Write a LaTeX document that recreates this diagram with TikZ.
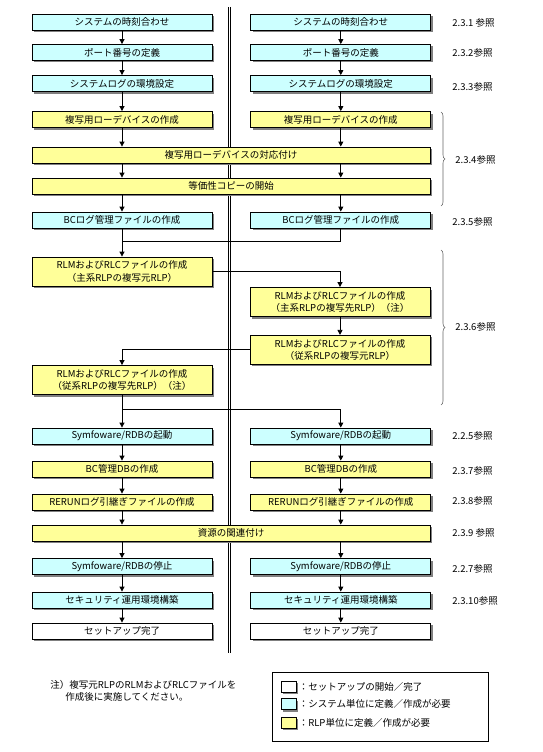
\documentclass[tikz,border=0pt]{standalone}
\usepackage{fontspec}
\setmainfont{Noto Sans CJK JP}
\usepackage{tikz}
\usetikzlibrary{arrows.meta,positioning,shadows,decorations.pathreplacing}
\definecolor{syscyan}{HTML}{CCFFFF}
\definecolor{rlpyellow}{HTML}{FFFF99}
\newcommand{\boxfont}{\fontsize{9.5}{12.5}\selectfont}
\newcommand{\reffont}{\fontsize{9.5}{11.5}\selectfont}

\begin{document}
\begin{tikzpicture}[
  x=1pt, y=-1pt, >={Triangle[length=5pt,width=5pt]}, line width=0.8pt,
  every node/.style={font=\boxfont},
  stepbox/.style={draw, line width=0.8pt, inner sep=1pt, align=center, minimum height=16pt,
    drop shadow={shadow xshift=2pt, shadow yshift=-2pt, fill=black!50, opacity=1}},
  sysbox/.style={stepbox, fill=syscyan},
  rlpbox/.style={stepbox, fill=rlpyellow},
  endbox/.style={stepbox, fill=white},
  narrow/.style={minimum width=180pt},
  wide/.style={minimum width=398pt},
  tall/.style={minimum height=29pt},
  ref/.style={anchor=west, font=\reffont, inner sep=0pt},
  refbrace/.style={draw=black!60, line width=0.6pt, decorate, decoration={brace, amplitude=4pt}}
]
  \useasboundingbox (0,0) rectangle (542,752);

  % Separator between the two systems
  \coordinate (sepTop) at (229.5,7);
  \coordinate (sepBot) at (229.5,653);
  \draw[double, double distance=1.6pt, line width=0.7pt] (sepTop) -- (sepBot);

  % Left column, right column beside it
  \node[sysbox, narrow] (L1) at (122,22) {システムの時刻合わせ};
  \node[sysbox, narrow] (R1) [right=38pt of L1] {システムの時刻合わせ};
  \node[sysbox, narrow] (L2) at (122,52.5) {ポート番号の定義};
  \node[sysbox, narrow] (R2) [right=38pt of L2] {ポート番号の定義};
  \node[sysbox, narrow] (L3) at (122,83.5) {システムログの環境設定};
  \node[sysbox, narrow] (R3) [right=38pt of L3] {システムログの環境設定};
  \node[rlpbox, narrow] (L4) at (122,119.5) {複写用ローデバイスの作成};
  \node[rlpbox, narrow] (R4) [right=38pt of L4] {複写用ローデバイスの作成};
  \node[rlpbox, wide] (W5) at (231,155) {複写用ローデバイスの対応付け};
  \node[rlpbox, wide] (W6) at (231,186) {等価性コピーの開始};
  \node[sysbox, narrow] (L7) at (122,220) {BCログ管理ファイルの作成};
  \node[sysbox, narrow] (R7) [right=38pt of L7] {BCログ管理ファイルの作成};

  % RLM/RLC files, zig-zag between systems
  \node[rlpbox, narrow, tall] (L8) at (122,271.5) {RLMおよびRLCファイルの作成\\（主系RLPの複写元RLP）};
  \node[rlpbox, narrow, tall] (R9) at (340,302) {RLMおよびRLCファイルの作成\\（主系RLPの複写先RLP）（注）};
  \node[rlpbox, narrow, tall] (R10) [below=18pt of R9] {RLMおよびRLCファイルの作成\\（従系RLPの複写元RLP）};
  \node[rlpbox, narrow, tall] (L11) at (122,380) {RLMおよびRLCファイルの作成\\（従系RLPの複写先RLP）（注）};

  \node[sysbox, narrow] (L12) at (122,436) {Symfoware/RDBの起動};
  \node[sysbox, narrow] (R12) [right=38pt of L12] {Symfoware/RDBの起動};
  \node[rlpbox, narrow] (L13) at (122,469) {BC管理DBの作成};
  \node[rlpbox, narrow] (R13) [right=38pt of L13] {BC管理DBの作成};
  \node[rlpbox, narrow] (L14) at (122,502) {RERUNログ引継ぎファイルの作成};
  \node[rlpbox, narrow] (R14) [right=38pt of L14] {RERUNログ引継ぎファイルの作成};
  \node[rlpbox, wide] (W15) at (231,533) {資源の関連付け};
  \node[sysbox, narrow] (L16) at (122,566.5) {Symfoware/RDBの停止};
  \node[sysbox, narrow] (R16) [right=38pt of L16] {Symfoware/RDBの停止};
  \node[sysbox, narrow] (L17) at (122,600) {セキュリティ運用環境構築};
  \node[sysbox, narrow] (R17) [right=38pt of L17] {セキュリティ運用環境構築};
  \node[endbox, narrow] (L18) at (122,631) {セットアップ完了};
  \node[endbox, narrow] (R18) [right=38pt of L18] {セットアップ完了};

  % Straight arrows
  \foreach \a/\b in {L1/L2,L2/L3,L3/L4,R1/R2,R2/R3,R3/R4,L7/L8,R9/R10,L11/L12,
      L12/L13,L13/L14,R12/R13,R13/R14,L16/L17,L17/L18,R16/R17,R17/R18}
    \draw[->] (\a) -- (\b);

  % Arrows into and out of the wide boxes
  \foreach \c in {L4,R4} {
    \draw[->] (\c) -- (\c |- W5.north);
    \draw[->] (\c |- W5.south) -- (\c |- W6.north);
  }
  \foreach \c in {L7,R7} \draw[->] (\c |- W6.south) -- (\c);
  \foreach \c in {L14,R14} \draw[->] (\c) -- (\c |- W15.north);
  \foreach \c in {L16,R16} \draw[->] (\c |- W15.south) -- (\c);

  % Joins
  \coordinate (joinA) at (122,241);
  \coordinate (joinB) at (122,409);
  \draw (R7) |- (joinA);
  \draw[->] (L8) -| (R9);
  \draw[->] (R10) -| (L11);
  \draw[->] (joinB) -| (R12);

  % References
  \node[ref] (ref1) at (452,23) {2.3.1 参照};
  \node[ref] (ref2) at (452,53) {2.3.2参照};
  \node[ref] (ref3) at (452,87) {2.3.3参照};
  \draw[refbrace] (441,112) -- (441,206);
  \node[ref] (ref4) at (455,160) {2.3.4参照};
  \node[ref] (ref5) at (452,222) {2.3.5参照};
  \draw[refbrace] (441,250) -- (441,405);
  \node[ref] (ref6) at (455,327) {2.3.6参照};
  \node[ref] (ref7) at (452,436) {2.2.5参照};
  \node[ref] (ref8) at (452,471) {2.3.7参照};
  \node[ref] (ref9) at (452,501) {2.3.8参照};
  \node[ref] (ref10) at (452,533) {2.3.9 参照};
  \node[ref] (ref11) at (452,569) {2.2.7参照};
  \node[ref] (ref12) at (452,601) {2.3.10参照};

  % Note
  \node[anchor=north west, align=left, inner sep=0pt, font=\reffont] (note) at (50,680)
    {注）複写元RLPのRLMおよびRLCファイルを\\\hspace*{15pt}作成後に実施してください。};

  % Legend
  \node[draw, line width=0.8pt, minimum width=216pt, minimum height=69pt, inner sep=0pt] (legend) at (380,706.5) {};
  \node[endbox, minimum width=15pt, minimum height=11pt, inner sep=0pt] (keyA) at (288.5,686.5) {};
  \node[sysbox, minimum width=15pt, minimum height=11pt, inner sep=0pt] (keyB) at (288.5,704) {};
  \node[rlpbox, minimum width=15pt, minimum height=11pt, inner sep=0pt] (keyC) at (288.5,722.5) {};
  \node[ref] (keyAtxt) [right=2pt of keyA] {：セットアップの開始／完了};
  \node[ref] (keyBtxt) [right=2pt of keyB] {：システム単位に定義／作成が必要};
  \node[ref] (keyCtxt) [right=2pt of keyC] {：RLP単位に定義／作成が必要};
\end{tikzpicture}
\end{document}
